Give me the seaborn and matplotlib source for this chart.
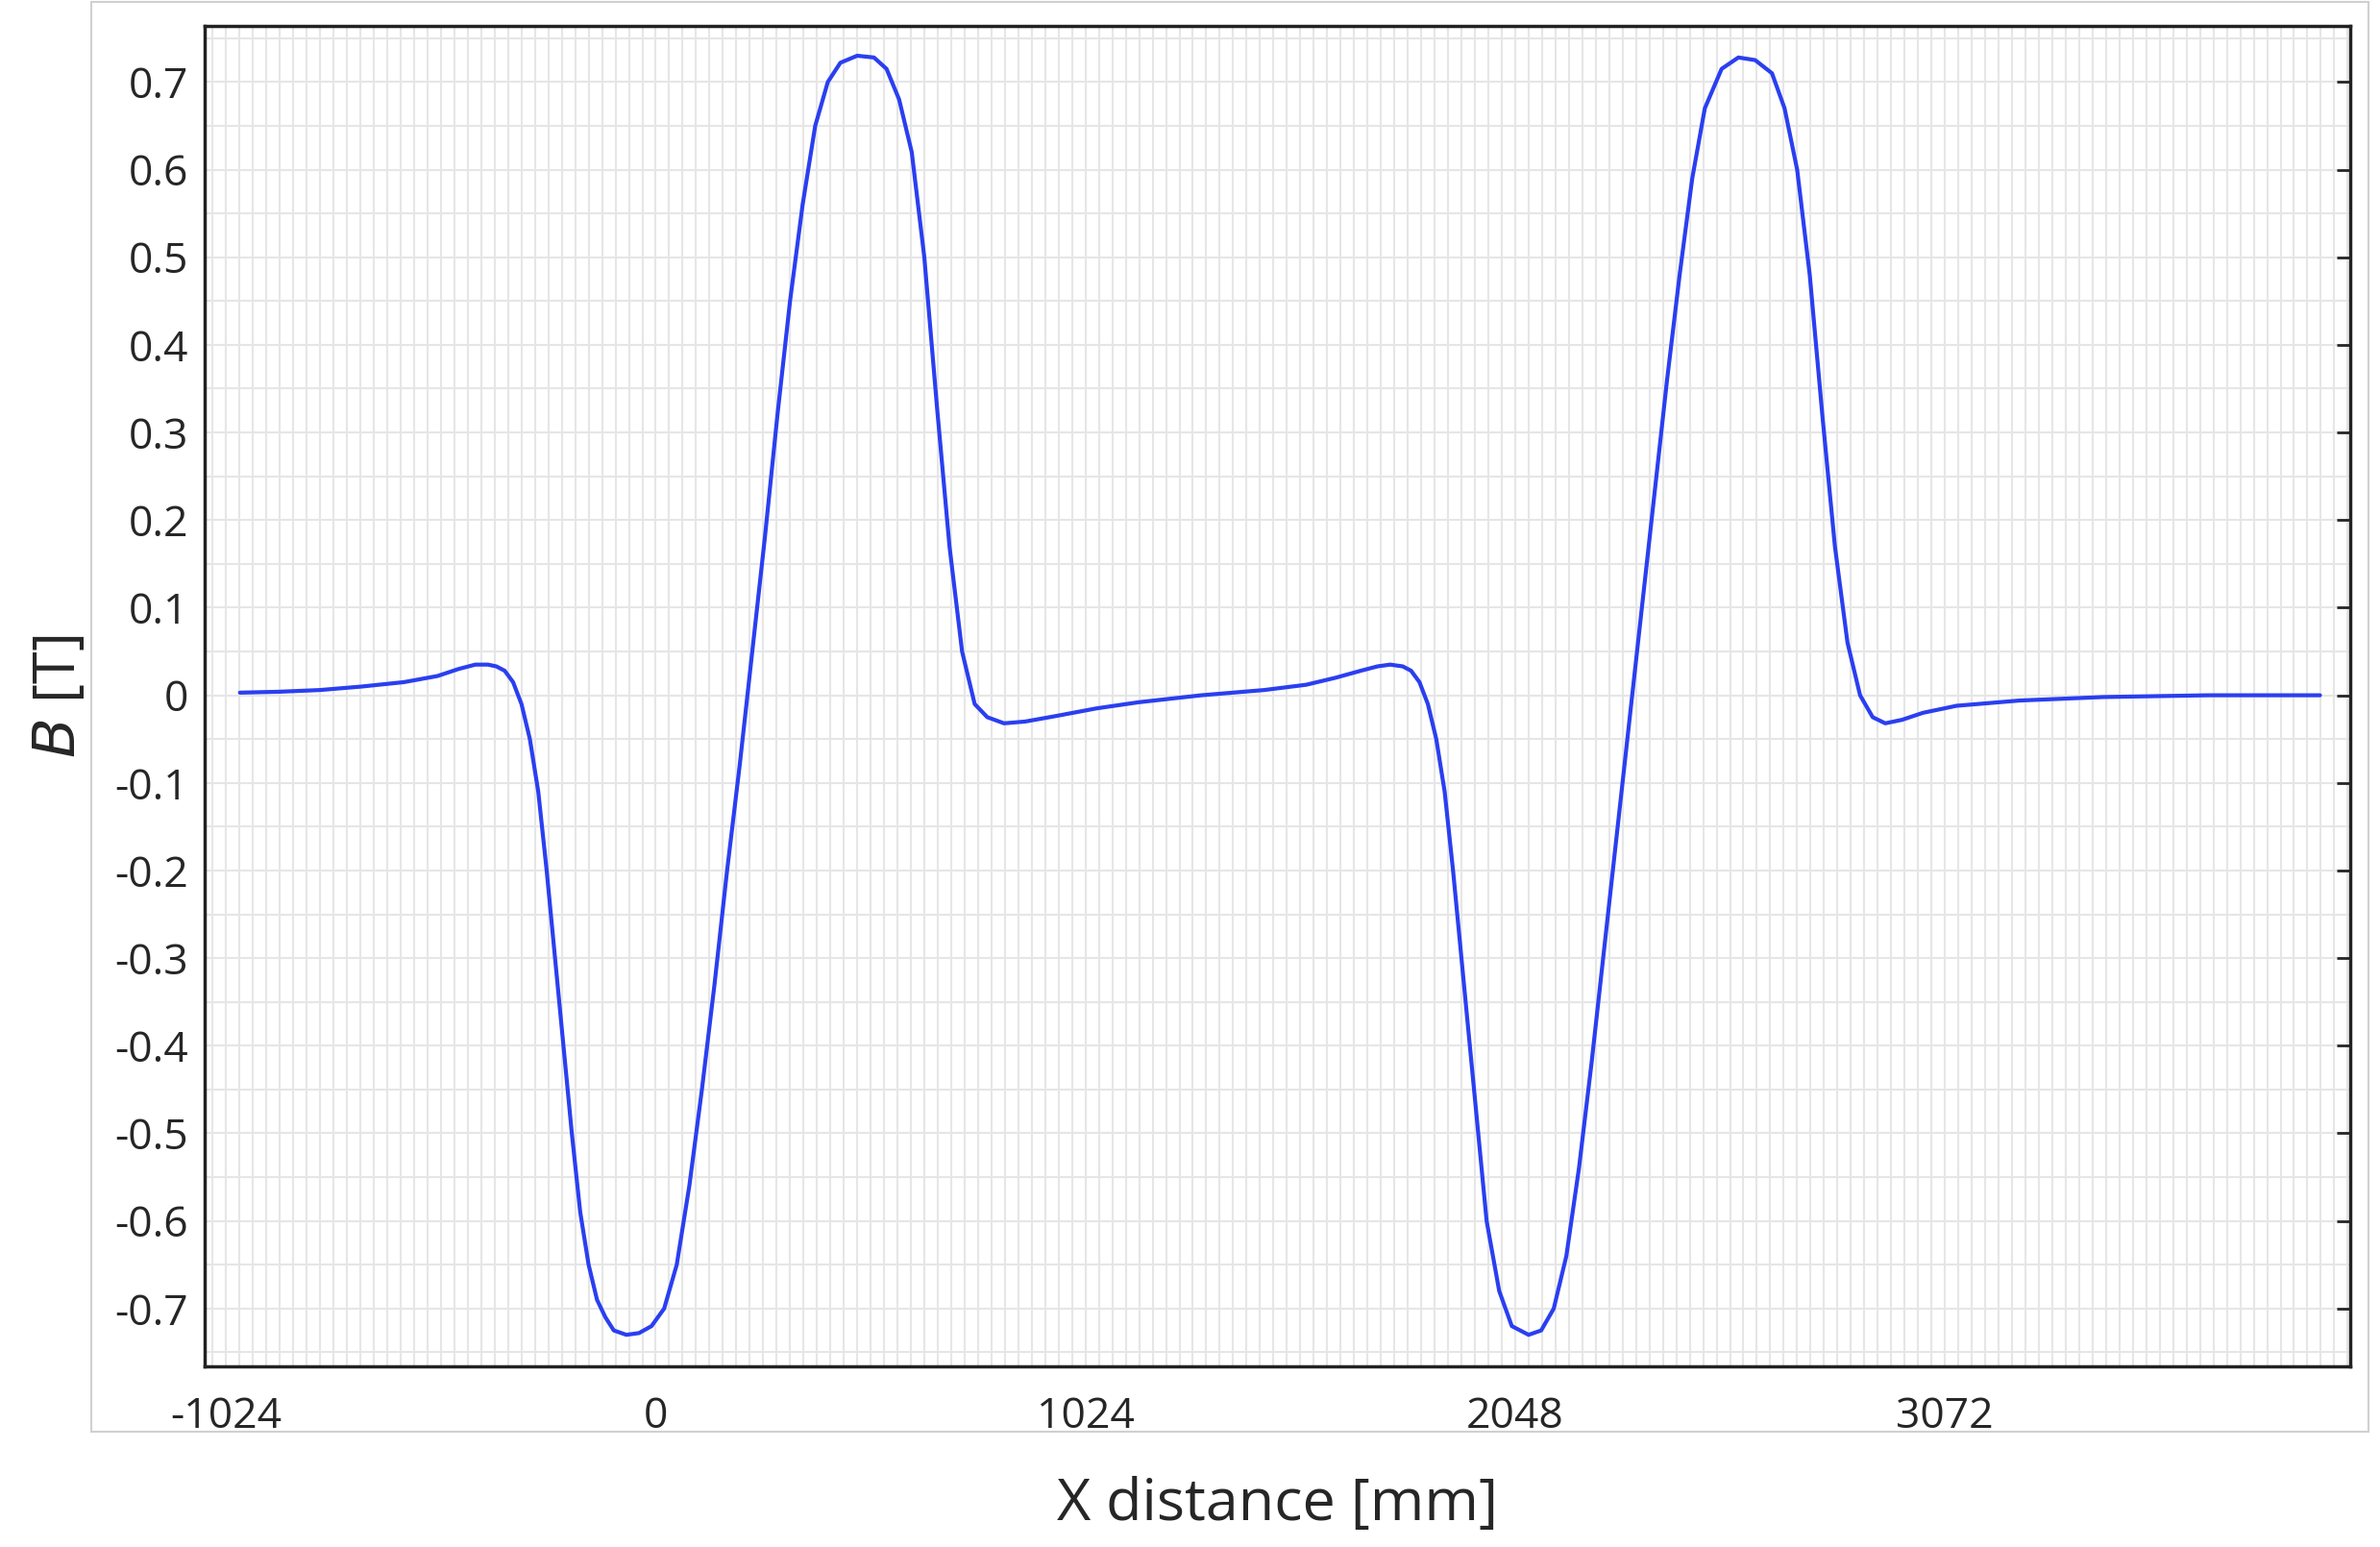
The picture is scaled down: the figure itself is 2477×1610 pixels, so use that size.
import numpy as np
import pandas as pd
import matplotlib.pyplot as plt
import seaborn as sns
from matplotlib.ticker import MultipleLocator
from matplotlib.patches import Rectangle

# Значения
x_mm = [-991, -900, -800, -700, -600, -520, -470, -430, -400, -380, -360, -340,
        -320, -300, -280, -260, -240, -220, -200, -180, -160, -140, -120, -100,
        -70, -40, -10, 20, 50, 80, 110, 140, 170, 200, 230, 260, 290, 320, 350,
        380, 410, 440, 480, 520, 550, 580, 610, 640, 670, 700, 730, 760, 790,
        830, 880, 950, 1050, 1150, 1300, 1450, 1550, 1620, 1680, 1720, 1750,
        1780, 1800, 1820, 1840, 1860, 1880, 1900, 1920, 1940, 1960, 1980, 2010,
        2040, 2080, 2110, 2140, 2170, 2200, 2230, 2260, 2290, 2320, 2350, 2380,
        2410, 2440, 2470, 2500, 2540, 2580, 2620, 2660, 2690, 2720, 2750, 2780,
        2810, 2840, 2870, 2900, 2930, 2970, 3020, 3100, 3250, 3450, 3700, 3966]
b_t = [0.003, 0.004, 0.006, 0.010, 0.015, 0.022, 0.030, 0.035, 0.035, 0.033,
       0.028, 0.015, -0.010, -0.050, -0.110, -0.200, -0.300, -0.400, -0.500,
       -0.590, -0.650, -0.690, -0.710, -0.725, -0.730, -0.728, -0.720, -0.700,
       -0.650, -0.560, -0.450, -0.330, -0.200, -0.080, 0.050, 0.180, 0.320,
       0.450, 0.560, 0.650, 0.700, 0.722, 0.730, 0.728, 0.715, 0.680, 0.620,
       0.500, 0.330, 0.170, 0.050, -0.010, -0.025, -0.032, -0.030, -0.024,
       -0.015, -0.008, 0.000, 0.006, 0.012, 0.020, 0.028, 0.033, 0.035, 0.033,
       0.028, 0.015, -0.010, -0.050, -0.110, -0.200, -0.300, -0.400, -0.500,
       -0.600, -0.680, -0.720, -0.730, -0.725, -0.700, -0.640, -0.540, -0.420,
       -0.290, -0.160, -0.030, 0.100, 0.230, 0.360, 0.480, 0.590, 0.670, 0.715,
       0.728, 0.725, 0.710, 0.670, 0.600, 0.480, 0.320, 0.170, 0.060, 0.000,
       -0.025, -0.032, -0.028, -0.020, -0.012, -0.006, -0.002, 0.000, 0.000]
x_ticks = [-1024, 0, 1024, 2048, 3072]
y_ticks = [round(v, 1) for v in np.arange(-0.7, 0.71, 0.1)]

data = pd.DataFrame({'x': x_mm, 'B': b_t})

sns.set_style('white')
plt.rcParams['font.family'] = ['Open Sans', 'DejaVu Sans']

fig = plt.figure(figsize=(24.77, 16.10), dpi=100)
ax = fig.add_axes([213 / 2477, 1 - 1422 / 1610, (2446 - 213) / 2477, (1422 - 27) / 1610])

# Рамка вокруг области графика
fig.patches.append(Rectangle((95 / 2477, 1 - 1490 / 1610), (2465 - 95) / 2477, 1488 / 1610,
                             transform=fig.transFigure, fill=False,
                             edgecolor='#d0d0d0', linewidth=1.5))

sns.lineplot(data=data, x='x', y='B', ax=ax, color='#2a3ff0', linewidth=3)

ax.set_xlim(-1075, 4038)
ax.set_ylim(-0.766, 0.764)
ax.set_xticks(x_ticks)
ax.set_xticklabels([str(v) for v in x_ticks])
ax.set_yticks(y_ticks)
ax.set_yticklabels(['0' if v == 0 else f'{v:g}'.replace('\u2212', '-') for v in y_ticks])
ax.xaxis.set_minor_locator(MultipleLocator(32))
ax.yaxis.set_minor_locator(MultipleLocator(0.05))
ax.grid(which='both', color='#e6e6e6', linewidth=1.5)
ax.set_axisbelow(True)
ax.tick_params(which='major', direction='in', length=10, width=2,
               labelsize=32, top=False, right=True)
ax.tick_params(axis='x', pad=22)
ax.tick_params(axis='y', pad=12)
ax.tick_params(which='minor', length=0)
for s in ax.spines.values():
    s.set_linewidth(2.5)
    s.set_color('#222222')

ax.set_xlabel('X distance [mm]', fontsize=44, labelpad=28)
ax.set_ylabel('$B$ [T]', fontsize=44, labelpad=20)

fig.savefig('out.png', dpi=100)
